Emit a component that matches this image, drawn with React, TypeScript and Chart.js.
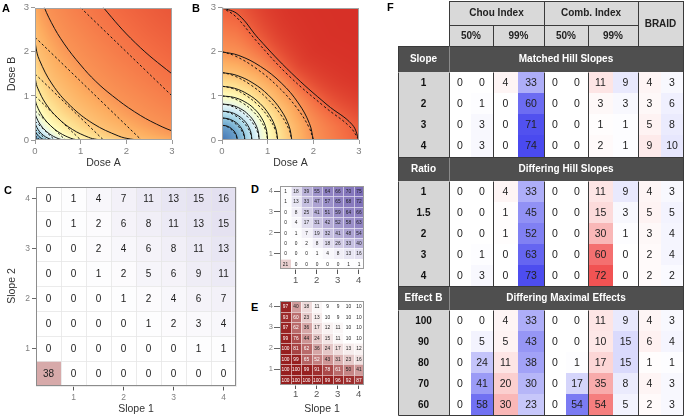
import React, { useEffect, useRef } from "react";
import { Chart, registerables } from "chart.js";
Chart.register(...registerables);

const FONT = "'Liberation Sans', Arial, Helvetica, sans-serif";

// ================= Panels A & B : iso-effect contours =================
const DOSE_TICKS = [0, 1, 2, 3];

// Panel A: effect level of each solid contour (actual surface)
const A_LEVELS = [0.1, 0.2, 0.3, 0.4, 0.5, 0.6, 0.7, 0.8, 0.87];
const A_SOLID: number[][][] = [
  [[0, 0.11], [0.018, 0.06], [0.037, 0.037], [0.06, 0.018], [0.11, 0]],
  [[0, 0.25], [0.01, 0.196], [0.04, 0.136], [0.083, 0.083], [0.136, 0.04], [0.196, 0.01], [0.25, 0]],
  [[0, 0.43], [0.004, 0.385], [0.017, 0.337], [0.069, 0.234], [0.143, 0.143], [0.234, 0.069], [0.337, 0.017], [0.385, 0.004], [0.43, 0]],
  [[0, 0.667], [0.007, 0.597], [0.027, 0.522], [0.107, 0.363], [0.222, 0.222], [0.363, 0.107], [0.522, 0.027], [0.597, 0.007], [0.667, 0]],
  [[0, 1], [0.01, 0.895], [0.04, 0.783], [0.16, 0.545], [0.333, 0.333], [0.545, 0.16], [0.783, 0.04], [0.895, 0.01], [1, 0]],
  [[0, 1.5], [0.015, 1.343], [0.06, 1.175], [0.24, 0.818], [0.5, 0.5], [0.818, 0.24], [1.175, 0.06], [1.343, 0.015], [1.5, 0]],
  [[0, 2.33], [0.023, 2.085], [0.093, 1.824], [0.373, 1.27], [0.776, 0.776], [1.27, 0.373], [1.824, 0.093], [2.085, 0.023], [2.33, 0]],
  [[0, 4], [0.04, 3.58], [0.16, 3.13], [0.36, 2.66], [0.64, 2.18], [1.0, 1.7], [1.33, 1.33], [1.7, 1.0], [2.18, 0.64], [2.66, 0.36], [3.13, 0.16], [3.58, 0.04], [4, 0]],
  [[0, 6.6], [0.066, 5.91], [0.264, 5.17], [0.594, 4.39], [1.056, 3.6], [1.5, 3.0], [2.2, 2.2], [3.0, 1.5], [3.6, 1.056], [4.39, 0.594], [5.17, 0.264], [5.91, 0.066], [6.6, 0]],
];
// Panel A: additive reference contours (dashed)
const A_DASHED: number[][][] = [
  [[0, 0.11], [0.11, 0]],
  [[0, 0.25], [0.25, 0]],
  [[0, 0.43], [0.43, 0]],
  [[0, 0.667], [0.667, 0]],
  [[0, 1], [1, 0]],
  [[0, 1.5], [1.5, 0]],
  [[0, 2.33], [2.33, 0]],
  [[1, 3], [3, 1]],
];

const B_LEVELS = [0.1, 0.2, 0.3, 0.4, 0.5, 0.6, 0.7, 0.8, 0.9];
const B_SOLID: number[][][] = [
  [[0, 0.333], [0.086, 0.322], [0.167, 0.288], [0.235, 0.235], [0.288, 0.167], [0.322, 0.086], [0.333, 0]],
  [[0, 0.5], [0.13, 0.483], [0.25, 0.433], [0.354, 0.354], [0.433, 0.25], [0.483, 0.13], [0.5, 0]],
  [[0, 0.655], [0.17, 0.633], [0.328, 0.567], [0.463, 0.463], [0.567, 0.328], [0.633, 0.17], [0.655, 0]],
  [[0, 0.816], [0.211, 0.788], [0.408, 0.707], [0.577, 0.577], [0.707, 0.408], [0.788, 0.211], [0.816, 0]],
  [[0, 1], [0.259, 0.966], [0.5, 0.866], [0.707, 0.707], [0.866, 0.5], [0.966, 0.259], [1, 0]],
  [[0, 1.22], [0.272, 1.174], [0.565, 1.039], [0.83, 0.83], [1.039, 0.565], [1.174, 0.272], [1.22, 0]],
  [[0, 1.53], [0.312, 1.469], [0.678, 1.291], [1.017, 1.017], [1.291, 0.678], [1.469, 0.312], [1.53, 0]],
  [[0, 2], [0.37, 1.916], [0.84, 1.67], [1.296, 1.296], [1.67, 0.84], [1.916, 0.37], [2, 0]],
  [[0, 3], [0.35, 2.85], [0.8, 2.3], [1.52, 1.52], [2.3, 0.8], [2.85, 0.35], [3, 0]],
];
const B_DASHED: number[][][] = [
  [[0, 0.333], [0.068, 0.32], [0.148, 0.281], [0.221, 0.221], [0.281, 0.148], [0.32, 0.068], [0.333, 0]],
  [[0, 0.5], [0.102, 0.48], [0.222, 0.422], [0.333, 0.333], [0.422, 0.222], [0.48, 0.102], [0.5, 0]],
  [[0, 0.655], [0.134, 0.629], [0.29, 0.553], [0.436, 0.436], [0.553, 0.29], [0.629, 0.134], [0.655, 0]],
  [[0, 0.816], [0.166, 0.783], [0.361, 0.689], [0.543, 0.543], [0.689, 0.361], [0.783, 0.166], [0.816, 0]],
  [[0, 1], [0.204, 0.96], [0.443, 0.844], [0.665, 0.665], [0.844, 0.443], [0.96, 0.204], [1, 0]],
  [[0, 1.22], [0.226, 1.169], [0.512, 1.019], [0.791, 0.791], [1.019, 0.512], [1.169, 0.226], [1.22, 0]],
  [[0, 1.53], [0.252, 1.461], [0.607, 1.264], [0.964, 0.964], [1.264, 0.607], [1.461, 0.252], [1.53, 0]],
  [[0, 2], [0.29, 1.904], [0.742, 1.628], [1.218, 1.218], [1.628, 0.742], [1.904, 0.29], [2, 0]],
  [[0, 3], [0.3, 2.8], [0.75, 2.25], [1.46, 1.46], [2.25, 0.75], [2.8, 0.3], [3, 0]],
];

// ================= Panels C, D, E : slope heatmaps =================
const SLOPES = [0.5, 1, 1.5, 2, 2.5, 3, 3.5, 4];
const SLOPE_TICKS = [1, 2, 3, 4];
// rows listed from top (Slope 2 = 4) to bottom (Slope 2 = 0.5)
const C_VALUES = [
  [0, 1, 4, 7, 11, 13, 15, 16],
  [0, 1, 2, 6, 8, 11, 13, 15],
  [0, 0, 2, 4, 6, 8, 11, 13],
  [0, 0, 1, 2, 5, 6, 9, 11],
  [0, 0, 0, 1, 2, 4, 6, 7],
  [0, 0, 0, 0, 1, 2, 3, 4],
  [0, 0, 0, 0, 0, 0, 1, 1],
  [38, 0, 0, 0, 0, 0, 0, 0],
];
const C_ANTAGONISTIC = [[0.5, 0.5]];
const D_VALUES = [
  [1, 18, 39, 55, 64, 66, 70, 75],
  [1, 13, 33, 47, 57, 65, 68, 72],
  [0, 8, 25, 41, 51, 59, 64, 66],
  [0, 4, 17, 31, 42, 52, 58, 63],
  [0, 1, 7, 19, 32, 41, 48, 54],
  [0, 0, 2, 8, 18, 26, 33, 40],
  [0, 0, 0, 1, 4, 8, 13, 16],
  [21, 0, 0, 0, 0, 0, 1, 1],
];
const D_ANTAGONISTIC = [[0.5, 0.5]];
const E_VALUES = [
  [97, 40, 18, 11, 9, 9, 10, 10],
  [93, 60, 23, 13, 10, 9, 10, 10],
  [97, 62, 36, 17, 12, 11, 10, 10],
  [99, 76, 44, 24, 15, 11, 10, 10],
  [100, 81, 62, 36, 24, 17, 13, 12],
  [100, 99, 65, 52, 43, 31, 23, 16],
  [100, 100, 99, 91, 78, 61, 50, 41],
  [100, 100, 100, 100, 99, 96, 92, 87],
];
const E_BASELINE = 10;

// ================= Panel F : table =================
const F_GROUPS = ["Chou Index", "Comb. Index", "BRAID"];
const F_LEVELS = ["50%", "99%"];
const F_SECTION_LABELS = ["Slope", "Ratio", "Effect B"];
const F_SECTION_TITLES = ["Matched Hill Slopes", "Differing Hill Slopes", "Differing Maximal Effects"];
const F_SLOPE_ROWS = ["1", "2", "3", "4"];
const F_SLOPE_VALUES = [
  [0, 0, 4, 33, 0, 0, 11, 9, 4, 3],
  [0, 1, 0, 60, 0, 0, 3, 3, 3, 6],
  [0, 3, 0, 71, 0, 0, 1, 1, 5, 8],
  [0, 3, 0, 74, 0, 0, 2, 1, 9, 10],
];
const F_RATIO_ROWS = ["1", "1.5", "2", "3", "4"];
const F_RATIO_VALUES = [
  [0, 0, 4, 33, 0, 0, 11, 9, 4, 3],
  [0, 0, 1, 45, 0, 0, 15, 3, 5, 5],
  [0, 0, 1, 52, 0, 0, 30, 1, 3, 4],
  [0, 1, 0, 63, 0, 0, 60, 0, 2, 4],
  [0, 3, 0, 73, 0, 0, 72, 0, 2, 2],
];
const F_EFFECT_ROWS = ["100", "90", "80", "70", "60"];
const F_EFFECT_VALUES = [
  [0, 0, 4, 33, 0, 0, 11, 9, 4, 3],
  [0, 5, 5, 43, 0, 0, 10, 15, 6, 4],
  [0, 24, 11, 38, 0, 1, 17, 15, 1, 1],
  [0, 41, 20, 30, 0, 17, 35, 8, 4, 3],
  [0, 58, 30, 23, 0, 54, 54, 5, 2, 3],
];

// ---------- styles ----------
const F_COL_W = [0.94, 0.94, 1.08, 1.08, 0.94, 0.94, 1.08, 1.08, 0.96, 0.96];
const F_LABEL_W = 2.19;
const F_HEAD_H = [1.15, 1.0];
const F_SECTION_H = [1.25, 1.15, 1.15];
const RDYLBU = ["#313695", "#4575b4", "#74add1", "#abd9e9", "#e0f3f8", "#ffffbf", "#fee090", "#fdae61", "#f46d43", "#d73027", "#a50026"].map(
  (h) => [parseInt(h.slice(1, 3), 16), parseInt(h.slice(3, 5), 16), parseInt(h.slice(5, 7), 16)]
);
const PURPLE = [80, 60, 160];
const DARKRED = [150, 30, 30];
const T_RED = [238, 40, 40];
const T_BLUE = [35, 35, 235];

const mix = (base: number[], t: number) => {
  const k = Math.max(0, Math.min(1, t));
  return `rgb(${Math.round(255 - (255 - base[0]) * k)},${Math.round(255 - (255 - base[1]) * k)},${Math.round(255 - (255 - base[2]) * k)})`;
};

function cmap(e: number) {
  const p = Math.max(0, Math.min(1, 0.1 + 0.8 * e)) * 10;
  const i = Math.min(9, Math.floor(p));
  const f = p - i;
  return [0, 1, 2].map((k) => RDYLBU[i][k] + (RDYLBU[i + 1][k] - RDYLBU[i][k]) * f);
}

function rayHit(poly: number[][], th: number): number | null {
  const dx = Math.cos(th), dy = Math.sin(th);
  for (let i = 0; i < poly.length - 1; i++) {
    const [x1, y1] = poly[i];
    const [x2, y2] = poly[i + 1];
    const t1 = Math.atan2(y1, x1), t2 = Math.atan2(y2, x2);
    if ((th - t1) * (th - t2) <= 0) {
      const ex = x2 - x1, ey = y2 - y1;
      const den = ex * dy - ey * dx;
      if (Math.abs(den) < 1e-12) continue;
      const u = -(x1 * dy - y1 * dx) / den;
      return (x1 + u * ex) * dx + (y1 + u * ey) * dy;
    }
  }
  return null;
}

function fieldAt(a: number, b: number, polys: number[][][], levels: number[]) {
  const r = Math.hypot(a, b);
  if (r < 1e-9) return 0;
  const th = Math.atan2(Math.max(b, 0), Math.max(a, 0));
  const rs = [0], es = [0];
  polys.forEach((p, k) => {
    const rr = rayHit(p, th);
    if (rr != null) { rs.push(rr); es.push(levels[k]); }
  });
  for (let i = 1; i < rs.length; i++) {
    if (r <= rs[i]) return es[i - 1] + ((es[i] - es[i - 1]) * (r - rs[i - 1])) / (rs[i] - rs[i - 1]);
  }
  const n = rs.length - 1;
  if (n < 1) return 0;
  const slope = (es[n] - es[n - 1]) / (rs[n] - rs[n - 1]);
  const room = 1 - es[n];
  return es[n] + room * (1 - Math.exp((-slope * (r - rs[n])) / room));
}

function fieldPlugin(polys: number[][][], levels: number[]) {
  return {
    id: "field",
    beforeDatasetsDraw(chart: any) {
      const { ctx, chartArea: a, scales } = chart;
      const w = Math.round(a.right - a.left), h = Math.round(a.bottom - a.top);
      const off = document.createElement("canvas");
      off.width = w; off.height = h;
      const octx = off.getContext("2d")!;
      const img = octx.createImageData(w, h);
      for (let py = 0; py < h; py++) {
        const bv = scales.y.getValueForPixel(a.top + py + 0.5);
        for (let px = 0; px < w; px++) {
          const av = scales.x.getValueForPixel(a.left + px + 0.5);
          const c = cmap(fieldAt(av, bv, polys, levels));
          const k = (py * w + px) * 4;
          img.data[k] = c[0]; img.data[k + 1] = c[1]; img.data[k + 2] = c[2]; img.data[k + 3] = 255;
        }
      }
      octx.putImageData(img, 0, 0);
      ctx.drawImage(off, a.left, a.top, a.right - a.left, a.bottom - a.top);
    },
  };
}

function framePlugin(color: string) {
  return {
    id: "frame",
    afterDatasetsDraw(chart: any) {
      const { ctx, chartArea: a } = chart;
      ctx.save();
      ctx.strokeStyle = color;
      ctx.lineWidth = 1;
      ctx.strokeRect(Math.round(a.left) + 0.5, Math.round(a.top) + 0.5, Math.round(a.right - a.left) - 1, Math.round(a.bottom - a.top) - 1);
      ctx.restore();
    },
  };
}

function contourConfig(solid: number[][][], dashed: number[][][], levels: number[], yTitle: string, pad: any, yWidth: number): any {
  const line = (pts: number[][], dash: boolean) => ({
    data: pts.map(([x, y]) => ({ x, y })),
    showLine: true,
    borderColor: "#141414",
    borderWidth: 1,
    pointRadius: 0,
    tension: 0.4,
    fill: false,
    borderDash: dash ? [2.4, 2.2] : [],
  });
  return {
    type: "scatter",
    data: { datasets: [...solid.map((p) => line(p, false)), ...dashed.map((p) => line(p, true))] },
    options: {
      responsive: false, animation: false, events: [],
      layout: { padding: pad },
      plugins: { legend: { display: false }, tooltip: { enabled: false } },
      scales: {
        x: {
          type: "linear", min: 0, max: 3,
          afterBuildTicks: (ax: any) => { ax.ticks = DOSE_TICKS.map((v) => ({ value: v })); },
          afterFit: (s: any) => { s.height = 35; },
          grid: { drawOnChartArea: false, drawTicks: true, tickLength: 4, color: "#9a9a9a" },
          border: { display: false },
          ticks: { color: "#808080", font: { size: 9.5, family: FONT }, padding: 2, maxRotation: 0 },
          title: { display: true, text: "Dose A", color: "#333", font: { size: 10.5, family: FONT }, padding: { top: 0, bottom: 6 } },
        },
        y: {
          type: "linear", min: 0, max: 3,
          afterBuildTicks: (ax: any) => { ax.ticks = DOSE_TICKS.map((v) => ({ value: v })); },
          afterFit: (s: any) => { s.width = yWidth; },
          grid: { drawOnChartArea: false, drawTicks: true, tickLength: 4, color: "#9a9a9a" },
          border: { display: false },
          ticks: { color: "#808080", font: { size: 9.5, family: FONT }, padding: 2 },
          title: { display: !!yTitle, text: yTitle, color: "#333", font: { size: 10.5, family: FONT }, padding: { top: 6, bottom: 0 } },
        },
      },
    },
    plugins: [fieldPlugin(solid, levels), framePlugin("#a3a3a3")],
  };
}

function heatPlugin(half: number, colorFor: (p: any) => string, textFor: (p: any) => string, cellFont: string, gridColor: string) {
  return {
    id: "heat",
    beforeDatasetsDraw(chart: any) {
      const { ctx, scales } = chart;
      ctx.save();
      chart.data.datasets[0].data.forEach((p: any) => {
        const x0 = Math.round(scales.x.getPixelForValue(p.x - half));
        const x1 = Math.round(scales.x.getPixelForValue(p.x + half));
        const y0 = Math.round(scales.y.getPixelForValue(p.y + half));
        const y1 = Math.round(scales.y.getPixelForValue(p.y - half));
        ctx.fillStyle = colorFor(p);
        ctx.fillRect(x0, y0, x1 - x0, y1 - y0);
        ctx.strokeStyle = gridColor;
        ctx.lineWidth = 0.8;
        ctx.strokeRect(x0 + 0.5, y0 + 0.5, x1 - x0, y1 - y0);
        ctx.font = cellFont;
        ctx.fillStyle = textFor(p);
        ctx.textAlign = "center";
        ctx.textBaseline = "middle";
        ctx.fillText(String(p.v), (x0 + x1) / 2, (y0 + y1) / 2 + 0.5);
      });
      ctx.restore();
    },
  };
}

function heatConfig(values: number[][], colorFor: any, textFor: any, o: any): any {
  const pts: any[] = [];
  values.forEach((row, r) => row.forEach((v, c) => pts.push({ x: SLOPES[c], y: SLOPES[SLOPES.length - 1 - r], v })));
  const half = (SLOPES[1] - SLOPES[0]) / 2;
  const lo = SLOPES[0] - half, hi = SLOPES[SLOPES.length - 1] + half;
  const tickSet = (ax: any) => { ax.ticks = SLOPE_TICKS.map((v) => ({ value: v })); };
  return {
    type: "scatter",
    data: { datasets: [{ data: pts, pointRadius: 0 }] },
    options: {
      responsive: false, animation: false, events: [],
      layout: { padding: o.pad },
      plugins: { legend: { display: false }, tooltip: { enabled: false } },
      scales: {
        x: {
          type: "linear", min: lo, max: hi, afterBuildTicks: tickSet,
          afterFit: (s: any) => { s.height = o.xh; },
          grid: { drawOnChartArea: false, drawTicks: true, tickLength: o.xtl, color: "#555" },
          border: { display: false },
          ticks: { color: o.xtc, font: { size: o.xfs, family: FONT }, padding: o.xtp, maxRotation: 0 },
          title: { display: !!o.xTitle, text: o.xTitle || "", color: "#333", font: { size: 10.5, family: FONT }, padding: { top: 0, bottom: 1 } },
        },
        y: {
          type: "linear", min: lo, max: hi, afterBuildTicks: tickSet,
          afterFit: (s: any) => { s.width = o.yw; },
          grid: { drawOnChartArea: false, drawTicks: true, tickLength: o.ytl, color: "#666" },
          border: { display: false },
          ticks: { color: "#808080", font: { size: o.yfs, family: FONT }, padding: o.ytp },
          title: { display: !!o.yTitle, text: o.yTitle || "", color: "#333", font: { size: 10.5, family: FONT }, padding: { top: 6, bottom: 0 } },
        },
      },
    },
    plugins: [heatPlugin(half, colorFor, textFor, o.cellFont, o.grid), framePlugin(o.frame)],
  };
}

const isIn = (list: number[][], p: any) => list.some(([x, y]) => x === p.x && y === p.y);

function tableColor(v: number, col: number) {
  return mix(col % 2 === 0 ? T_RED : T_BLUE, v / 90);
}

function tableConfig(): any {
  const colB = [0];
  F_COL_W.forEach((w) => colB.push(colB[colB.length - 1] + w));
  const head = [0, F_HEAD_H[0], F_HEAD_H[0] + F_HEAD_H[1]];
  const rowsBy = [F_SLOPE_ROWS, F_RATIO_ROWS, F_EFFECT_ROWS];
  const valsBy = [F_SLOPE_VALUES, F_RATIO_VALUES, F_EFFECT_VALUES];
  let yy = head[2];
  const cells: any[] = [];
  const sections = F_SECTION_LABELS.map((lab, si) => {
    const s: any = { label: lab, title: F_SECTION_TITLES[si], y0: yy, y1: yy + F_SECTION_H[si], rows: [] };
    yy = s.y1;
    rowsBy[si].forEach((rl, ri) => {
      s.rows.push({ label: rl, y0: yy, y1: yy + 1 });
      valsBy[si][ri].forEach((v, c) => {
        cells.push({ x: (colB[c] + colB[c + 1]) / 2, y: yy + 0.5, v, col: c, x0: colB[c], x1: colB[c + 1], y0: yy, y1: yy + 1 });
      });
      yy += 1;
    });
    s.end = yy;
    return s;
  });
  const total = yy;
  const LINE = "#3a3a3a";
  const HEAD = "#d9d9d9";
  const DARK = "#4f4f4f";
  const LABEL = "#d6d6d6";
  const plugin = {
    id: "ftable",
    beforeDatasetsDraw(chart: any) {
      const { ctx, scales } = chart;
      const X = (v: number) => Math.round(scales.x.getPixelForValue(v));
      const Y = (v: number) => Math.round(scales.y.getPixelForValue(v));
      const box = (x0: number, x1: number, y0: number, y1: number, fill?: string, stroke?: string) => {
        const a = X(x0), b = X(x1), c = Y(y0), d = Y(y1);
        if (fill) { ctx.fillStyle = fill; ctx.fillRect(a, c, b - a, d - c); }
        if (stroke) { ctx.strokeStyle = stroke; ctx.lineWidth = 1; ctx.strokeRect(a + 0.5, c + 0.5, b - a, d - c); }
      };
      const text = (s: string, x0: number, x1: number, y0: number, y1: number, font: string, color: string) => {
        ctx.font = font; ctx.fillStyle = color; ctx.textAlign = "center"; ctx.textBaseline = "middle";
        ctx.fillText(s, (X(x0) + X(x1)) / 2, (Y(y0) + Y(y1)) / 2 + 0.5);
      };
      const line = (x0: number, y0: number, x1: number, y1: number, color: string) => {
        ctx.strokeStyle = color; ctx.lineWidth = 1; ctx.beginPath();
        ctx.moveTo(X(x0) + 0.5, Y(y0) + 0.5); ctx.lineTo(X(x1) + 0.5, Y(y1) + 0.5); ctx.stroke();
      };
      const HB = `bold 10px ${FONT}`;
      const NORM = `10.5px ${FONT}`;
      ctx.save();
      box(colB[0], colB[4], head[0], head[1], HEAD, LINE);
      text(F_GROUPS[0], colB[0], colB[4], head[0], head[1], HB, "#222");
      box(colB[4], colB[8], head[0], head[1], HEAD, LINE);
      text(F_GROUPS[1], colB[4], colB[8], head[0], head[1], HB, "#222");
      box(colB[8], colB[10], head[0], head[2], HEAD, LINE);
      text(F_GROUPS[2], colB[8], colB[10], head[0], head[2], HB, "#222");
      for (let g = 0; g < 4; g++) {
        box(colB[g * 2], colB[g * 2 + 2], head[1], head[2], HEAD, LINE);
        text(F_LEVELS[g % 2], colB[g * 2], colB[g * 2 + 2], head[1], head[2], HB, "#222");
      }
      sections.forEach((s: any) => {
        box(-F_LABEL_W, colB[10], s.y0, s.y1, DARK, LINE);
        line(0, s.y0, 0, s.y1, "#8a8a8a");
        text(s.label, -F_LABEL_W, 0, s.y0, s.y1, HB, "#fff");
        text(s.title, 0, colB[10], s.y0, s.y1, HB, "#fff");
        s.rows.forEach((r: any) => {
          box(-F_LABEL_W, 0, r.y0, r.y1, LABEL);
          text(r.label, -F_LABEL_W, 0, r.y0, r.y1, HB, "#111");
        });
      });
      chart.data.datasets[0].data.forEach((p: any) => {
        box(p.x0, p.x1, p.y0, p.y1, tableColor(p.v, p.col));
        text(String(p.v), p.x0, p.x1, p.y0, p.y1, NORM, "#222");
      });
      sections.forEach((s: any) => {
        [-F_LABEL_W, 0, colB[2], colB[4], colB[6], colB[8], colB[10]].forEach((xv) => line(xv, s.y1, xv, s.end, LINE));
        line(-F_LABEL_W, s.end, colB[10], s.end, LINE);
      });
      ctx.restore();
    },
  };
  return {
    type: "scatter",
    data: { datasets: [{ data: cells, pointRadius: 0 }] },
    options: {
      responsive: false, animation: false, events: [],
      layout: { padding: { left: 13, right: 2, top: 1, bottom: 1 } },
      plugins: { legend: { display: false }, tooltip: { enabled: false } },
      scales: {
        x: { type: "linear", display: false, min: -F_LABEL_W, max: colB[10] },
        y: { type: "linear", display: false, min: 0, max: total, reverse: true },
      },
    },
    plugins: [plugin],
  };
}

function ChartBox({ left, top, width, height, make }: any) {
  const ref = useRef<HTMLCanvasElement>(null);
  useEffect(() => {
    const chart = new Chart(ref.current as HTMLCanvasElement, make());
    return () => chart.destroy();
  }, []);
  return <canvas ref={ref} width={width} height={height} style={{ position: "absolute", left, top, width, height }} />;
}

const Letter = ({ t, left, top }: any) => (
  <div style={{ position: "absolute", left, top, font: `bold 11px ${FONT}`, lineHeight: "12px", color: "#000" }}>{t}</div>
);

export default function App() {
  const cPurple = (list: number[][]) => (p: any) => (isIn(list, p) ? mix(DARKRED, p.v / 100) : mix(PURPLE, p.v / 100));
  const eLevel = (p: any) => Math.pow(Math.max(0, (p.v - E_BASELINE) / (100 - E_BASELINE)), 0.75);
  const eRed = (p: any) => mix(DARKRED, eLevel(p));
  return (
    <div style={{ position: "fixed", left: 0, top: 0, width: 685, height: 416, background: "#fff", overflow: "hidden" }}>
      <ChartBox left={0} top={0} width={180} height={175}
        make={() => contourConfig(A_SOLID, A_DASHED, A_LEVELS, "Dose B", { left: 0, top: 3, right: 8, bottom: 0 }, 35)} />
      <ChartBox left={190} top={0} width={180} height={175}
        make={() => contourConfig(B_SOLID, B_DASHED, B_LEVELS, "", { left: 0, top: 3, right: 11, bottom: 0 }, 32)} />
      <ChartBox left={0} top={178} width={245} height={238}
        make={() => heatConfig(C_VALUES, cPurple(C_ANTAGONISTIC), () => "#222", {
          pad: { left: 0, top: 8.5, right: 9, bottom: 0 }, xh: 30.5, yw: 36, xtl: 5, ytl: 4, xfs: 8.5, yfs: 8.5, xtc: "#808080",
          xtp: 2, ytp: 2, xTitle: "Slope 1", yTitle: "Slope 2", cellFont: `10px ${FONT}`, grid: "#e6e6e6", frame: "#8c8c8c",
        })} />
      <ChartBox left={262} top={180} width={110} height={112}
        make={() => heatConfig(D_VALUES, cPurple(D_ANTAGONISTIC), () => "#222", {
          pad: { left: 0, top: 6, right: 8, bottom: 0 }, xh: 23, yw: 18, xtl: 5, ytl: 6, xfs: 9.5, yfs: 7.5, xtc: "#555",
          xtp: 1, ytp: 1, xTitle: "", yTitle: "", cellFont: `4.8px ${FONT}`, grid: "rgba(255,255,255,0.7)", frame: "#9a9a9a",
        })} />
      <ChartBox left={262} top={295} width={110} height={121}
        make={() => heatConfig(E_VALUES, eRed, (p: any) => (eLevel(p) > 0.55 ? "#fff" : "#222"), {
          pad: { left: 0, top: 6, right: 8, bottom: 0 }, xh: 31, yw: 18, xtl: 4, ytl: 6, xfs: 9.5, yfs: 7.5, xtc: "#555",
          xtp: 0, ytp: 1, xTitle: "Slope 1", yTitle: "", cellFont: `4.8px ${FONT}`, grid: "rgba(255,255,255,0.7)", frame: "#9a9a9a",
        })} />
      <ChartBox left={385} top={0} width={300} height={416} make={() => tableConfig()} />
      <Letter t="A" left={2} top={2} />
      <Letter t="B" left={192} top={2} />
      <Letter t="C" left={4} top={184} />
      <Letter t="D" left={251} top={183} />
      <Letter t="E" left={251} top={301} />
      <Letter t="F" left={387} top={1} />
    </div>
  );
}
